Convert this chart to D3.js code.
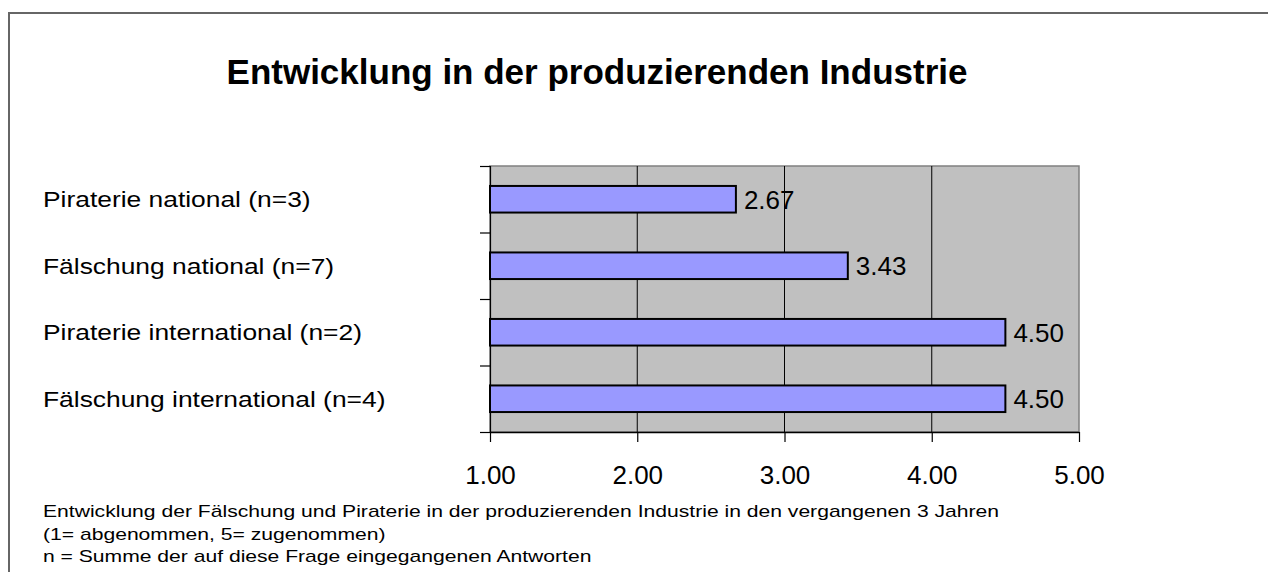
<!DOCTYPE html>
<html>
<head>
<meta charset="utf-8">
<script src="https://cdn.jsdelivr.net/npm/d3@7"></script>
<style>
  body { margin: 0; background: #fff; overflow: hidden; }
  svg { display: block; }
  text { font-family: "Liberation Sans", Arial, sans-serif; }
</style>
</head>
<body>
<script>
const categories = [
  "Piraterie national (n=3)",
  "Fälschung national (n=7)",
  "Piraterie international (n=2)",
  "Fälschung international (n=4)"
];
const values = [2.67, 3.43, 4.50, 4.50];
const xTicks = [1, 2, 3, 4, 5];
const title = "Entwicklung in der produzierenden Industrie";
const notes = [
  "Entwicklung der Fälschung und Piraterie in der produzierenden Industrie in den vergangenen 3 Jahren",
  "(1= abgenommen, 5= zugenommen)",
  "n = Summe der auf diese Frage eingegangenen Antworten"
];

const w = 1268;
const h = 572;
const plot = { left: 490, right: 1079, top: 166, bottom: 432 };

const svg = d3.select("body")
  .append("svg")
  .attr("width", w)
  .attr("height", h);

// outer chart frame (only top and left visible)
svg.append("path")
  .attr("d", `M9,${h} V13 H${w}`)
  .attr("fill", "none")
  .attr("stroke", "#666")
  .attr("stroke-width", 2);

svg.append("text")
  .text(title)
  .attr("x", 597)
  .attr("y", 84)
  .attr("text-anchor", "middle")
  .style("font-size", "35px")
  .style("font-weight", "bold");

const x = d3.scaleLinear()
  .domain([1, 5])
  .range([plot.left, plot.right]);

const y = d3.scaleBand()
  .domain(categories)
  .range([plot.top, plot.bottom])
  .paddingInner(0.6)
  .paddingOuter(0.3);

// plot background
svg.append("rect")
  .attr("x", plot.left)
  .attr("y", plot.top)
  .attr("width", plot.right - plot.left)
  .attr("height", plot.bottom - plot.top)
  .attr("fill", "#c0c0c0")
  .attr("stroke", "#808080")
  .attr("stroke-width", 1.5);

// vertical gridlines
svg.selectAll("line.grid")
  .data(xTicks.slice(1, -1))
  .join("line")
  .attr("class", "grid")
  .attr("x1", d => x(d)).attr("x2", d => x(d))
  .attr("y1", plot.top).attr("y2", plot.bottom)
  .attr("stroke", "#000")
  .attr("stroke-width", 1);

// y axis: ticks on category boundaries
const yEdge = d3.scaleLinear()
  .domain([categories.length, 0])
  .range([plot.top, plot.bottom]);
svg.append("g")
  .attr("transform", `translate(${plot.left},0)`)
  .call(d3.axisLeft(yEdge).ticks(categories.length).tickSize(10).tickSizeOuter(10).tickFormat(""))
  .call(g => g.selectAll("line, path").attr("stroke", "#000").attr("stroke-width", 1.2));

// x axis
svg.append("g")
  .attr("transform", `translate(0,${plot.bottom})`)
  .call(d3.axisBottom(x).tickValues(xTicks).tickSize(10).tickSizeOuter(0).tickFormat(d3.format(".2f")).tickPadding(24))
  .call(g => g.select(".domain").attr("stroke", "#000").attr("stroke-width", 1.5))
  .call(g => g.selectAll("line").attr("stroke", "#000").attr("stroke-width", 1.2))
  .call(g => g.selectAll("text")
    .attr("fill", "#000")
    .style("font-size", "26px")
    .style("font-family", "'Liberation Sans', Arial, sans-serif"));

// bars
svg.selectAll("rect.bar")
  .data(values)
  .join("rect")
  .attr("class", "bar")
  .attr("x", x(1))
  .attr("y", (d, i) => y(categories[i]))
  .attr("width", d => x(d) - x(1))
  .attr("height", y.bandwidth())
  .attr("fill", "#9999ff")
  .attr("stroke", "#000")
  .attr("stroke-width", 2);

// value labels
svg.selectAll("text.val")
  .data(values)
  .join("text")
  .attr("class", "val")
  .text(d => d3.format(".2f")(d))
  .attr("x", d => x(d) + 8)
  .attr("y", (d, i) => y(categories[i]) + y.bandwidth() / 2)
  .attr("dy", "0.36em")
  .style("font-size", "26px");

// category labels (a bit wider than tall in the original)
svg.selectAll("text.cat")
  .data(categories)
  .join("text")
  .attr("class", "cat")
  .text(d => d)
  .attr("transform", d => `translate(43,${y(d) + y.bandwidth() / 2}) scale(1.2,1)`)
  .attr("dy", "0.36em")
  .style("font-size", "22px");

// footnote
svg.selectAll("text.note")
  .data(notes)
  .join("text")
  .attr("class", "note")
  .text(d => d)
  .attr("transform", (d, i) => `translate(43,${517 + i * 22.5}) scale(1.32,1)`)
  .style("font-size", "16px");
</script>
</body>
</html>
